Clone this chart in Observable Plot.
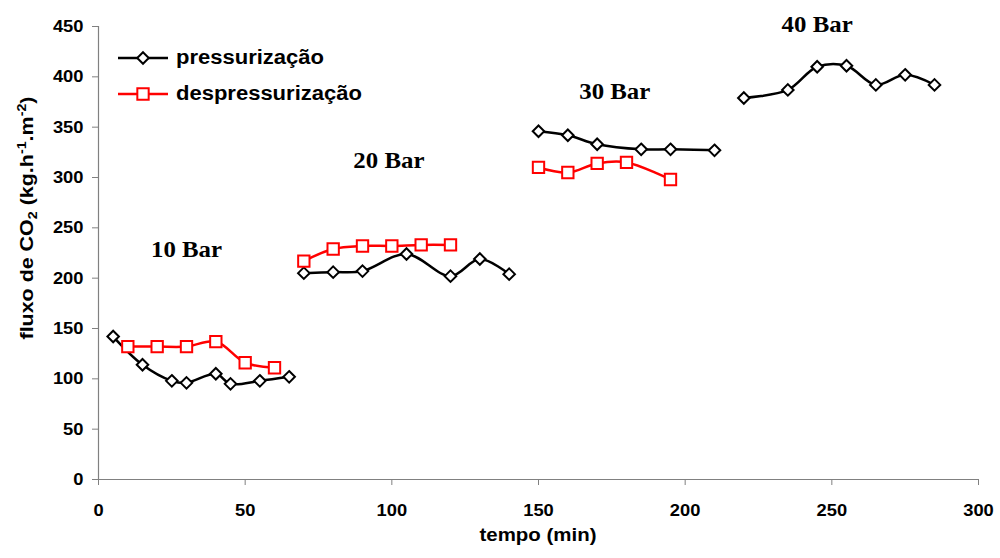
<!DOCTYPE html>
<html>
<head>
<meta charset="utf-8">
<script src="https://cdn.jsdelivr.net/npm/d3@7"></script>
<script src="https://cdn.jsdelivr.net/npm/@observablehq/plot@0.6"></script>
<style>
  body { margin: 0; background: #fff; }
  #chart { position: relative; width: 1000px; height: 558px; }
</style>
</head>
<body>
<div id="chart"></div>
<script>
// ---- data ----
const tempoPress = [5, 15, 25, 30, 40, 45, 55, 65, 70, 80, 90, 105, 120, 130, 140, 150, 160, 170, 185, 195, 210, 220, 235, 245, 255, 265, 275, 285];
const fluxoPress = [142, 114, 98, 96, 105, 95, 98, 102, 205, 206, 207, 224, 202, 219, 204, 346, 342, 333, 328, 328, 327, 379, 387, 410, 411, 392, 402, 392];
const etapaPress = [10, 10, 10, 10, 10, 10, 10, 10, 20, 20, 20, 20, 20, 20, 20, 30, 30, 30, 30, 30, 30, 40, 40, 40, 40, 40, 40, 40];

const tempoDesp = [10, 20, 30, 40, 50, 60, 70, 80, 90, 100, 110, 120, 150, 160, 170, 180, 195];
const fluxoDesp = [132, 132, 132, 137, 116, 111, 217, 229, 232, 232, 233, 233, 310, 305, 314, 315, 298];
const etapaDesp = [10, 10, 10, 10, 10, 10, 20, 20, 20, 20, 20, 20, 30, 30, 30, 30, 30];

const rotulos = ["10 Bar", "20 Bar", "30 Bar", "40 Bar"];
const rotuloX = [30, 99, 176, 245];
const rotuloY = [228, 317, 385, 452];

const xTicks = [0, 50, 100, 150, 200, 250, 300];
const yTicks = [0, 50, 100, 150, 200, 250, 300, 350, 400, 450];

const seriesNames = ["pressurização", "despressurização"];
const seriesColors = ["black", "#ff0000"];
const xTitle = "tempo (min)";

// ---- tables built from the arrays ----
const press = tempoPress.map((t, i) => ({t, f: fluxoPress[i], etapa: etapaPress[i]}));
const desp = tempoDesp.map((t, i) => ({t, f: fluxoDesp[i], etapa: etapaDesp[i]}));
const rot = rotulos.map((s, i) => ({s, x: rotuloX[i], y: rotuloY[i]}));

const SANS = "'Liberation Sans', Arial, Helvetica, sans-serif";
const SERIF = "'Liberation Serif', 'Times New Roman', serif";

const chart = Plot.plot({
  width: 1000,
  height: 558,
  marginLeft: 98,
  marginRight: 22,
  marginTop: 26,
  marginBottom: 79,
  style: {background: "#fff", color: "black", fontFamily: SANS, fontSize: "17px", fontWeight: "bold", overflow: "visible"},
  x: {domain: [0, 300], ticks: xTicks},
  y: {domain: [0, 450], ticks: yTicks},
  marks: [
    Plot.axisY({ticks: yTicks, tickSize: 6, tickPadding: 9, stroke: "#808080", label: null, tickFormat: d => String(d)}),
    Plot.axisX({ticks: xTicks, tickSize: 6, tickPadding: 18, stroke: "#808080", label: null, tickFormat: d => String(d)}),
    Plot.ruleX([0], {stroke: "#808080", strokeWidth: 1.2}),
    Plot.ruleY([0], {stroke: "#808080", strokeWidth: 1.2}),
    Plot.line(press, {x: "t", y: "f", z: "etapa", curve: "catmull-rom", stroke: seriesColors[0], strokeWidth: 2.5}),
    Plot.line(desp, {x: "t", y: "f", z: "etapa", curve: "catmull-rom", stroke: seriesColors[1], strokeWidth: 2.5}),
    Plot.dot(press, {x: "t", y: "f", symbol: "diamond2", r: 5.2, fill: "white", stroke: seriesColors[0], strokeWidth: 2}),
    Plot.dot(desp, {x: "t", y: "f", symbol: "square", r: 6.4, fill: "white", stroke: seriesColors[1], strokeWidth: 2}),
    Plot.text(rot, {x: "x", y: "y", text: "s", fontFamily: SERIF, fontSize: 23, fontWeight: "bold", fill: "black"})
  ]
});

document.getElementById("chart").append(chart);

const svg = d3.select(chart);

// stretch horizontal texts slightly, as in the reference
svg.selectAll("text").each(function() {
  const len = this.getComputedTextLength();
  if (len > 0) {
    this.setAttribute("textLength", (len * 1.08).toFixed(1));
    this.setAttribute("lengthAdjust", "spacingAndGlyphs");
  }
});

// x axis title
svg.append("text")
  .attr("x", 538).attr("y", 541)
  .attr("text-anchor", "middle")
  .attr("font-family", SANS).attr("font-weight", "bold").attr("font-size", 18)
  .attr("textLength", 117).attr("lengthAdjust", "spacingAndGlyphs")
  .text(xTitle);

// y axis title with subscript / superscripts
const yl = svg.append("text")
  .attr("transform", "translate(33,218) rotate(-90)")
  .attr("text-anchor", "middle")
  .attr("font-family", SANS).attr("font-weight", "bold").attr("font-size", 18)
  .attr("textLength", 243).attr("lengthAdjust", "spacingAndGlyphs");
yl.append("tspan").text("fluxo de CO");
yl.append("tspan").attr("font-size", 12).attr("dy", 4).text("2");
yl.append("tspan").attr("dy", -4).text(" (kg.h");
yl.append("tspan").attr("font-size", 12).attr("dy", -7).text("-1");
yl.append("tspan").attr("dy", 7).text(".m");
yl.append("tspan").attr("font-size", 12).attr("dy", -7).text("-2");
yl.append("tspan").attr("dy", 7).text(")");

// legend (inside the plot, top-left)
const symbols = [d3.symbolDiamond2, d3.symbolSquare];
const symR = [5.2, 6.4];
const leg = svg.append("g")
  .attr("font-family", SANS).attr("font-weight", "bold").attr("font-size", 20)
  .attr("text-anchor", "start");
seriesNames.forEach((name, i) => {
  const yy = 58 + i * 36;
  leg.append("line").attr("x1", 118).attr("x2", 168).attr("y1", yy).attr("y2", yy)
    .attr("stroke", seriesColors[i]).attr("stroke-width", 2.5);
  leg.append("path").attr("transform", `translate(143,${yy})`)
    .attr("d", d3.symbol(symbols[i], Math.PI * symR[i] * symR[i])())
    .attr("fill", "white").attr("stroke", seriesColors[i]).attr("stroke-width", 2);
  const t = leg.append("text").attr("x", 176).attr("y", yy + 6)
    .attr("text-anchor", "start").attr("fill", "black").text(name);
  const len = t.node().getComputedTextLength();
  t.attr("textLength", (len * 1.1).toFixed(1)).attr("lengthAdjust", "spacingAndGlyphs");
});
</script>
</body>
</html>
